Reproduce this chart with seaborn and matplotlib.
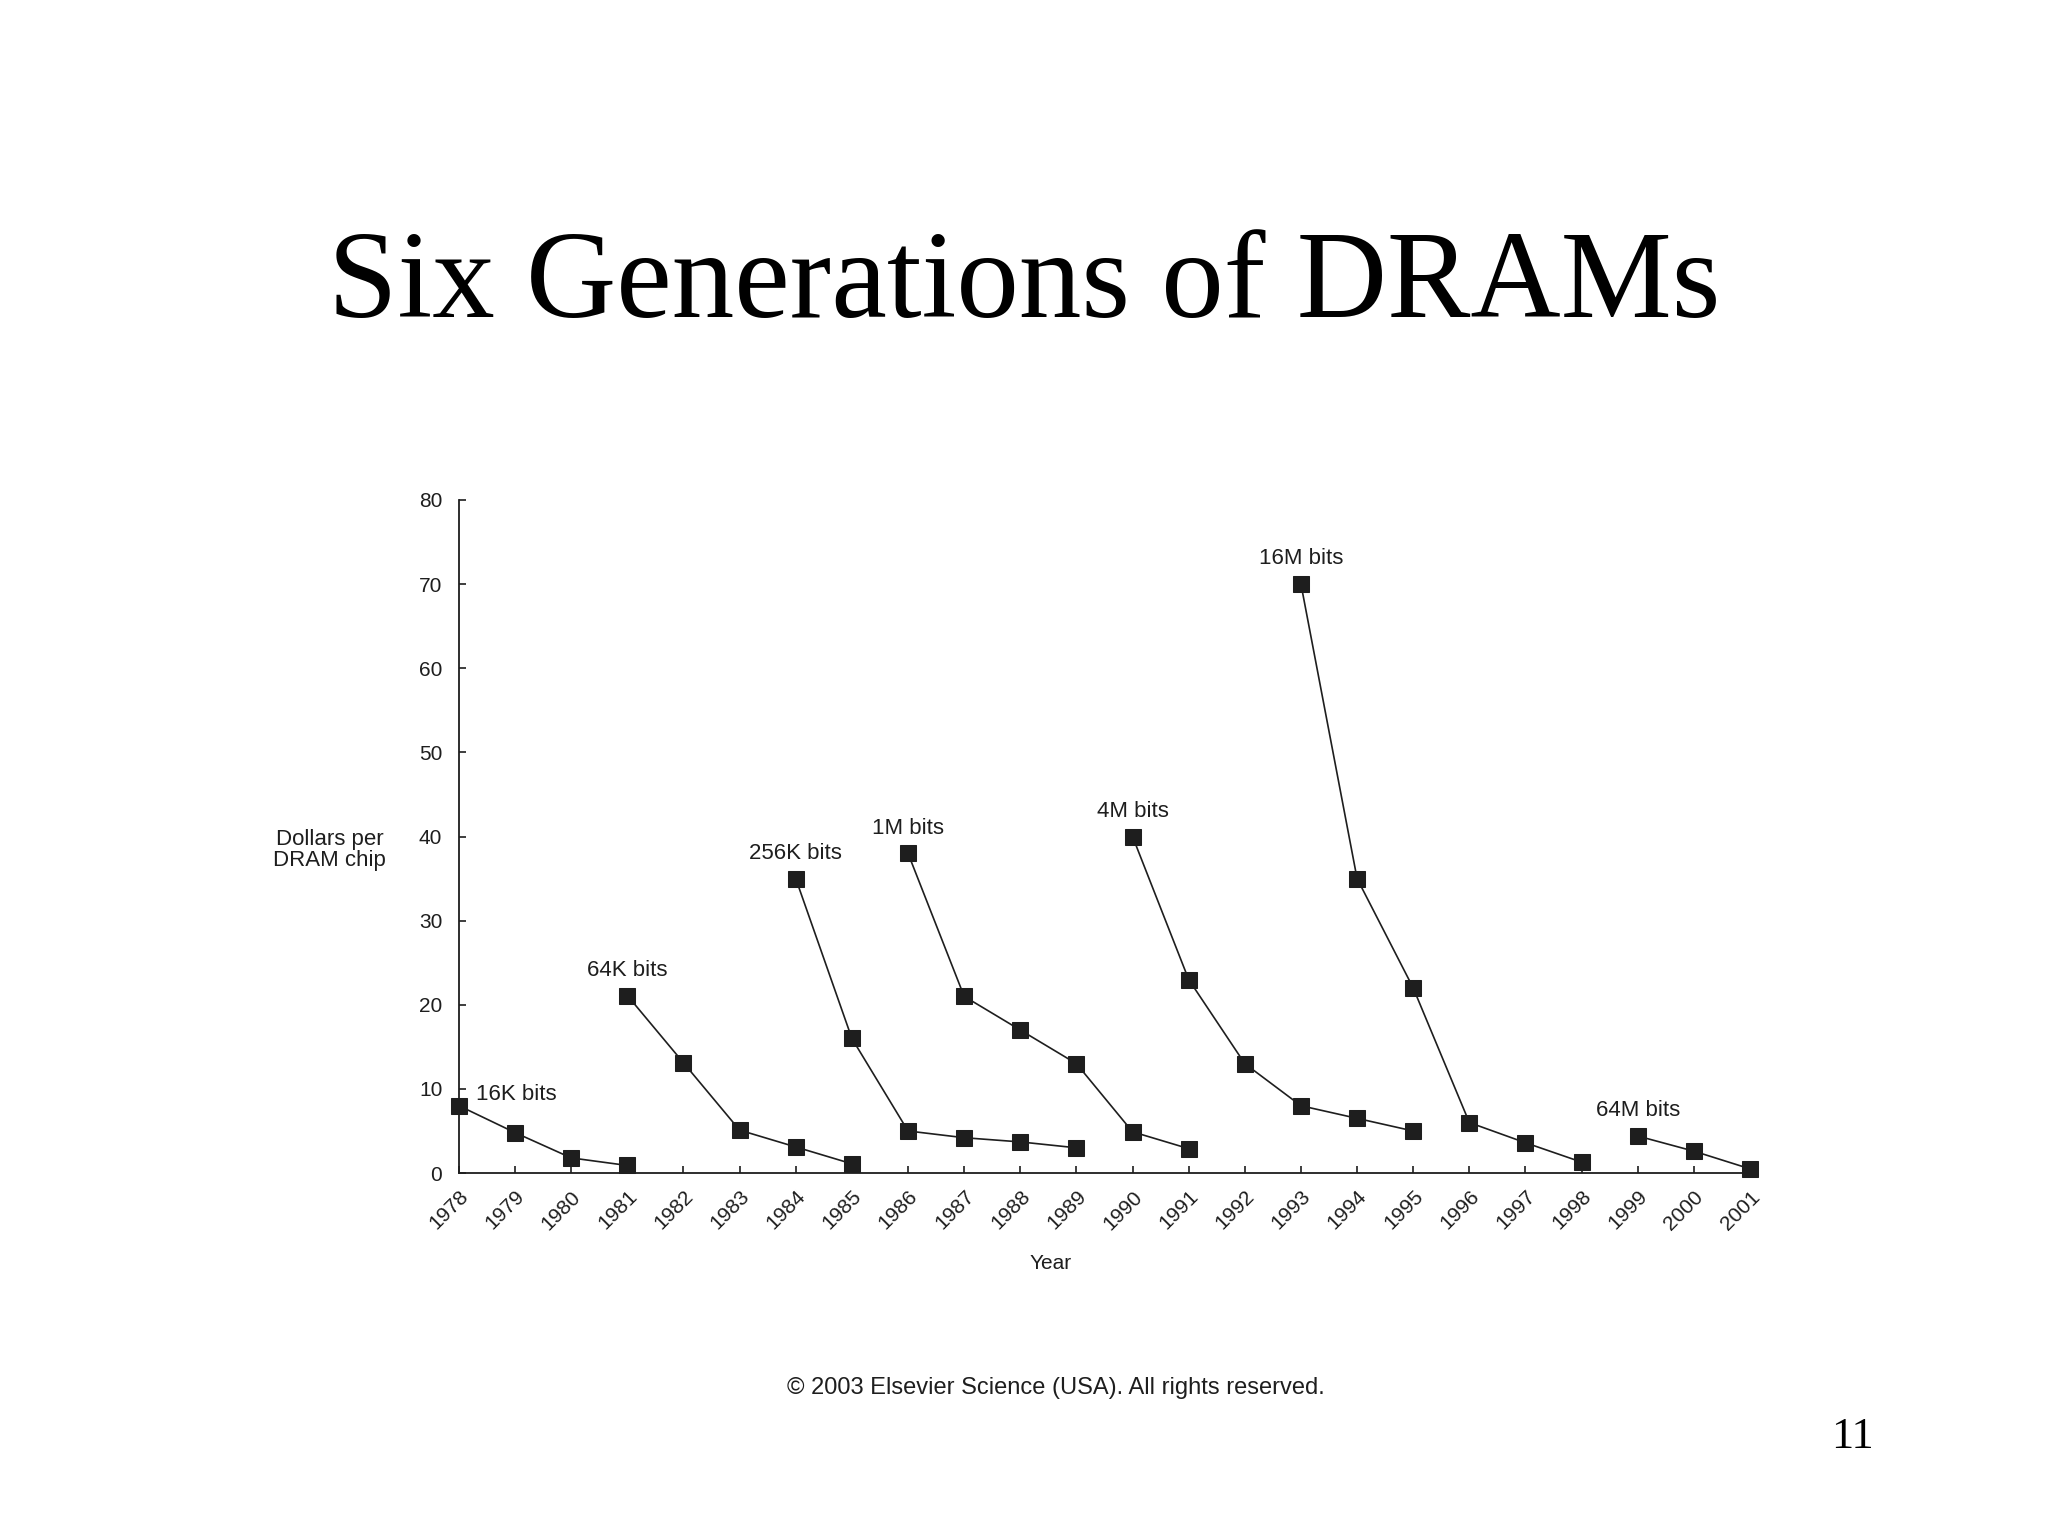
import pandas as pd
import matplotlib
matplotlib.use("Agg")
import matplotlib.pyplot as plt
import seaborn as sns

# DRAM price per chip, by generation
generations = ["16K bits", "64K bits", "256K bits", "1M bits", "4M bits", "16M bits", "64M bits"]
start_years = [1978, 1981, 1984, 1986, 1990, 1993, 1999]
prices = [
    [8.0, 4.8, 1.8, 0.9],
    [21.1, 13.1, 5.1, 3.1, 1.1],
    [35.0, 16.0, 5.0, 4.2, 3.7, 3.0],
    [38.0, 21.0, 17.0, 13.0, 4.9, 2.9],
    [40.0, 23.0, 13.0, 8.0, 6.5, 5.0],
    [70.0, 35.0, 22.0, 6.0, 3.6, 1.3],
    [4.4, 2.6, 0.5],
]
year_ticks = list(range(1978, 2002))
y_ticks = [0, 10, 20, 30, 40, 50, 60, 70, 80]

rows = []
for gen, y0, vals in zip(generations, start_years, prices):
    for i, v in enumerate(vals):
        rows.append({"gen": gen, "year": y0 + i, "dollars": v})
df = pd.DataFrame(rows)

sns.set_style("white")
plt.rcParams["font.family"] = ["Liberation Sans", "DejaVu Sans"]
ink = "#1e1e1e"

fig = plt.figure(figsize=(20.48, 15.36), dpi=100)
ax = fig.add_axes([0.2241, 0.2363, 0.6304, 0.4382])

sns.lineplot(data=df, x="year", y="dollars", hue="gen", units="gen", estimator=None,
             palette=[ink] * len(generations), marker="s", markersize=11,
             markeredgecolor=ink, linewidth=1.2, legend=False, ax=ax, clip_on=False)

# generation labels above the first point of each curve
for gen, y0, vals in zip(generations, start_years, prices):
    if gen == "16K bits":
        ax.text(y0 + 0.3, vals[0] + 1.3, gen, fontsize=16, color=ink, ha="left", va="center")
    else:
        ax.text(y0, vals[0] + 3.0, gen, fontsize=16, color=ink, ha="center", va="center")

ax.set_xlim(1978, 2001)
ax.set_ylim(0, 80)
ax.set_xticks(year_ticks)
ax.set_xticklabels([str(y) for y in year_ticks], rotation=45, ha="right",
                   rotation_mode="anchor")
ax.set_yticks(y_ticks)
ax.tick_params(axis="both", which="both", direction="in", length=5, width=1.2,
               labelsize=15, colors=ink, left=True, bottom=True)
ax.tick_params(axis="y", pad=12)
ax.tick_params(axis="x", pad=10)
sns.despine(ax=ax)
for side in ["left", "bottom"]:
    ax.spines[side].set_color(ink)
    ax.spines[side].set_linewidth(1.3)

ax.set_ylabel("Dollars per\nDRAM chip", rotation=0, fontsize=16, color=ink,
              ha="center", va="center", linespacing=1.0)
ax.yaxis.set_label_coords(-0.10, 0.48)
ax.set_xlabel("Year", fontsize=15, color=ink)
ax.xaxis.set_label_coords(0.4586, -0.12)

fig.text(0.5, 0.7936, "Six Generations of DRAMs", fontsize=90, ha="center",
         va="baseline", family=["Liberation Serif", "DejaVu Serif"], color="black")
fig.text(0.5156, 0.0964, "\u00a9 2003 Elsevier Science (USA). All rights reserved.",
         fontsize=17, ha="center", va="center", color=ink)
fig.text(0.9043, 0.0645, "11", fontsize=32, ha="center", va="center",
         family=["Liberation Serif", "DejaVu Serif"], color="black")

fig.savefig("out.png", dpi=100, facecolor="white")
